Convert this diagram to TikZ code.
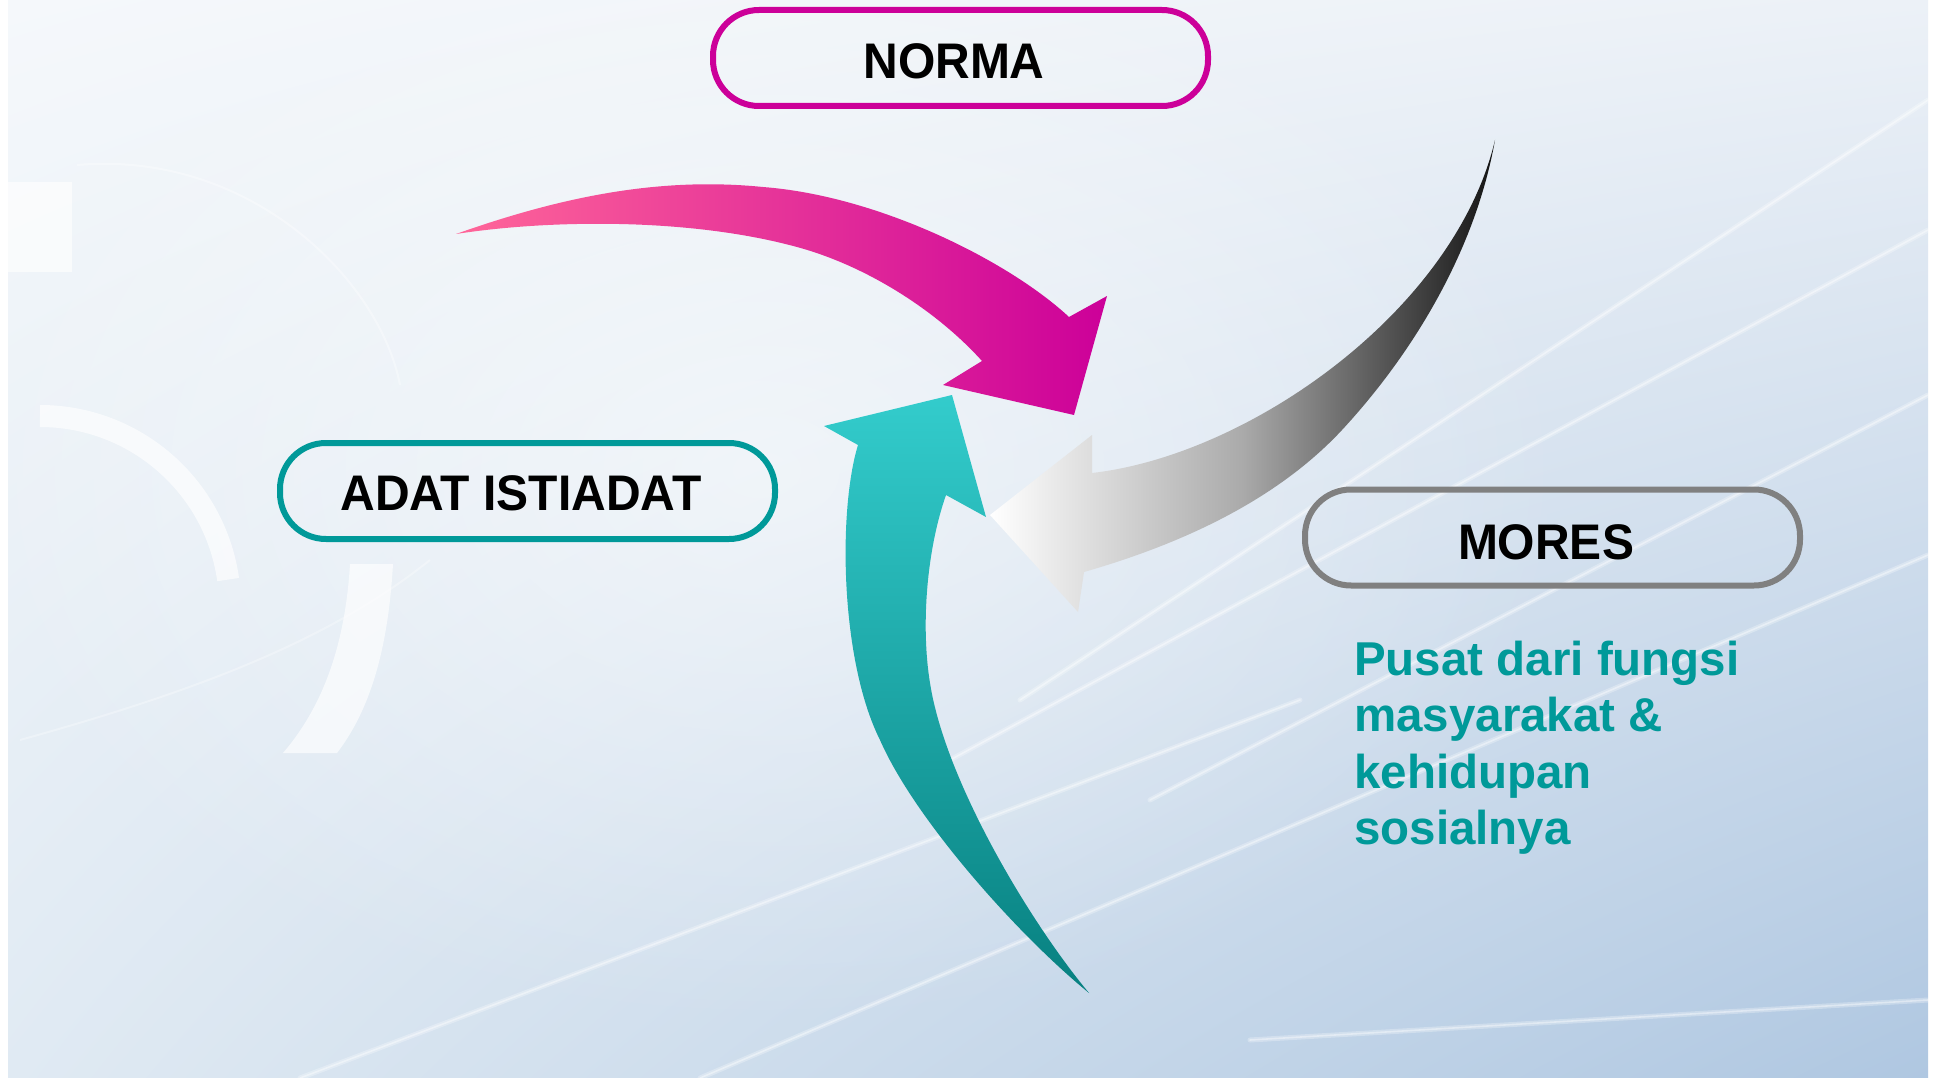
\documentclass[tikz,border=0pt]{standalone}
\usepackage{fontspec}
\usetikzlibrary{shadings,fadings}
\setmainfont{Liberation Sans}
\newfontfamily\boxfont{Liberation Sans}[FakeStretch=0.96]
\definecolor{magentaB}{HTML}{CC0099}
\definecolor{pinkL}{HTML}{FF6699}
\definecolor{tealB}{HTML}{009999}
\definecolor{grayB}{HTML}{808080}
\definecolor{tealTop}{HTML}{33CCCC}
\definecolor{tealBot}{HTML}{078080}
\definecolor{grayMid}{HTML}{AAAAAA}
\definecolor{grayDark}{HTML}{141414}
\definecolor{bgUL}{HTML}{F5F8FB}
\definecolor{bgUR}{HTML}{ECF1F7}
\definecolor{bgLL}{HTML}{E0EAF3}
\definecolor{bgLR}{HTML}{AFC7E1}
\tikzfading[name=fuzzyglow, inner color=transparent!0, outer color=transparent!100]
\newcommand\pilltext[2]{\raisebox{-#1}[\height][\depth]{#2}\kern13pt}
\begin{document}
\begin{tikzpicture}[x=1pt,y=-1pt,
  pill/.style={draw=#1, line width=6pt, rounded corners=46pt,
    minimum width=495pt, minimum height=96pt, inner sep=0pt,
    font=\boxfont\bfseries\fontsize{50}{60}\selectfont, text=black},
  streak/.style={white, opacity=0.28, line width=5pt, line cap=round},
  streakcore/.style={white, opacity=0.4, line width=1.6pt, line cap=round},
  deco/.style={white, opacity=0.65}]

\useasboundingbox (0,0) rectangle (1933,1078);
\fill[white] (0,0) rectangle (1933,1078);
\shade[upper left=bgUL, upper right=bgUR, lower left=bgLL, lower right=bgLR]
  (8,0) rectangle (1928,1078);
\fill[white, fill opacity=0.5, path fading=fuzzyglow] (760,470) ellipse [x radius=820, y radius=560];

% background decorations
\fill[deco] (8,182) rectangle (72,272);
\draw[deco, line width=22pt] (40,416) arc[start angle=-90, end angle=-8, radius=190];
\fill[deco] (350,564) -- (393,564) .. controls (388,650) and (370,710) .. (337,753)
  -- (283,753) .. controls (320,710) and (345,650) .. (350,564) -- cycle;
\draw[white, opacity=0.35, line width=2pt] (77,165) .. controls (250,150) and (380,280) .. (400,385);
\draw[white, opacity=0.3, line width=2pt] (20,740) .. controls (200,690) and (330,640) .. (430,560);
\foreach \a/\b in {{(1020,700)}/{(1928,100)}, {(950,760)}/{(1928,230)}, {(1150,800)}/{(1928,395)},
                   {(700,1078)}/{(1928,555)}, {(300,1078)}/{(1300,700)}, {(1250,1040)}/{(1928,1000)}}{
  \draw[streak] \a -- \b;
  \draw[streakcore] \a -- \b;
}

% pink arrow
\shade[left color=pinkL, right color=magentaB]
  (456,234) .. controls (566,195) and (663,177) .. (763,187)
  .. controls (880,196) and (1010,262) .. (1069,317)
  -- (1107,296) -- (1074,415) -- (943,385) -- (982,361)
  .. controls (937,311) and (867,266) .. (797,247)
  .. controls (687,217) and (546,220) .. (456,234) -- cycle;

% teal arrow
\shade[top color=tealTop, bottom color=tealBot]
  (952,395) -- (986,517) -- (946,495)
  .. controls (926,552) and (921,628) .. (930,683)
  .. controls (945,780) and (1029,921) .. (1089,993)
  .. controls (1019,936) and (915,820) .. (880,740)
  .. controls (840,660) and (838,510) .. (858,445)
  -- (824,426) -- cycle;

% gray arrow
\shade[left color=white, right color=grayDark, middle color=grayMid]
  (1495,140) .. controls (1476,247) and (1416,350) .. (1342,430)
  .. controls (1275,502) and (1178,545) .. (1084,572)
  -- (1078,612) -- (990,515) -- (1092,435) -- (1092,473)
  .. controls (1250,455) and (1455,310) .. (1495,140) -- cycle;

% labelled boxes
\node[pill=magentaB] (norma) at (960.5,58) {\pilltext{3.5pt}{NORMA}};
\node[pill=tealB] (adat) at (527.5,491) {\pilltext{2.5pt}{ADAT ISTIADAT}};
\node[pill=grayB] (mores) at (1552.5,537.5) {\pilltext{5pt}{MORES}};

% description
\node[anchor=base west, inner sep=0pt, text=tealB,
      font=\bfseries\fontsize{47.5}{56.5}\selectfont] (desc) at (1354,675)
  {\vtop{\hbox{Pusat dari fungsi}\hbox{masyarakat \&}\hbox{kehidupan}\hbox{sosialnya}}};
\end{tikzpicture}
\end{document}
